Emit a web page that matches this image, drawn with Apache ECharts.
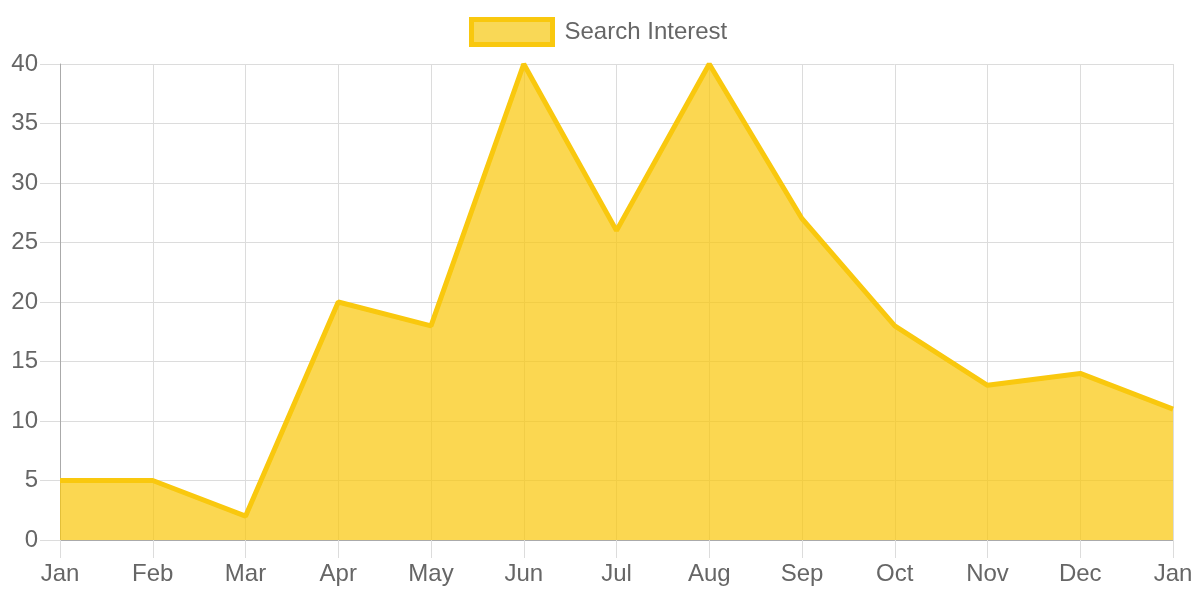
<!DOCTYPE html>
<html><head><meta charset="utf-8">
<script src="https://cdn.jsdelivr.net/npm/echarts@6/dist/echarts.min.js"></script>
<style>html,body{margin:0;padding:0;background:#fff}#c{width:1200px;height:600px}</style>
</head><body><div id="c"></div>
<script>
const categories = ['Jan','Feb','Mar','Apr','May','Jun','Jul','Aug','Sep','Oct','Nov','Dec','Jan'];
const searchInterest = [5,5,2,20,18,40,26,40,27,18,13,14,11];
const seriesName = 'Search Interest';
const yTicks = {min:0, max:40, interval:5};

const font = '"Liberation Sans", Arial, Helvetica, sans-serif';
const chart = echarts.init(document.getElementById('c'), null, {renderer:'canvas'});
chart.setOption({
  animation:false,
  textStyle:{fontFamily:font},
  legend:{
    top:12, left:464, padding:5,
    itemWidth:81, itemHeight:25, itemGap:10,
    icon:'rect',
    textStyle:{color:'#666', fontSize:24, fontFamily:font, padding:[0,0,0,7]},
    data:[{name:seriesName, itemStyle:{color:'#f9d856', borderColor:'#f9c80e', borderWidth:5}}]
  },
  grid:{left:60, right:27, top:64, bottom:60, containLabel:false},
  xAxis:{
    type:'category', data:categories, boundaryGap:false,
    axisLine:{show:true, lineStyle:{color:'#aaaaaa', width:1}},
    axisTick:{show:true, length:18, alignWithLabel:true, lineStyle:{color:'#dcdcdc'}},
    axisLabel:{color:'#666', fontSize:24, fontFamily:font, margin:22, interval:0},
    splitLine:{show:true, lineStyle:{color:'#dcdcdc', width:1}}
  },
  yAxis:{
    type:'value', min:yTicks.min, max:yTicks.max, interval:yTicks.interval,
    axisLine:{show:true, lineStyle:{color:'#aaaaaa', width:1}},
    axisTick:{show:true, length:20, lineStyle:{color:'#dcdcdc'}},
    axisLabel:{color:'#666', fontSize:24, fontFamily:font, margin:22},
    splitLine:{show:true, lineStyle:{color:'#dcdcdc', width:1}}
  },
  series:[{
    name:seriesName, type:'line', data:searchInterest,
    symbol:'none', showSymbol:false,
    lineStyle:{color:'#f9c80e', width:5},
    itemStyle:{color:'#f9c80e'},
    areaStyle:{color:'#f9c80e', opacity:0.72, origin:'start'}
  }]
});
</script></body></html>
